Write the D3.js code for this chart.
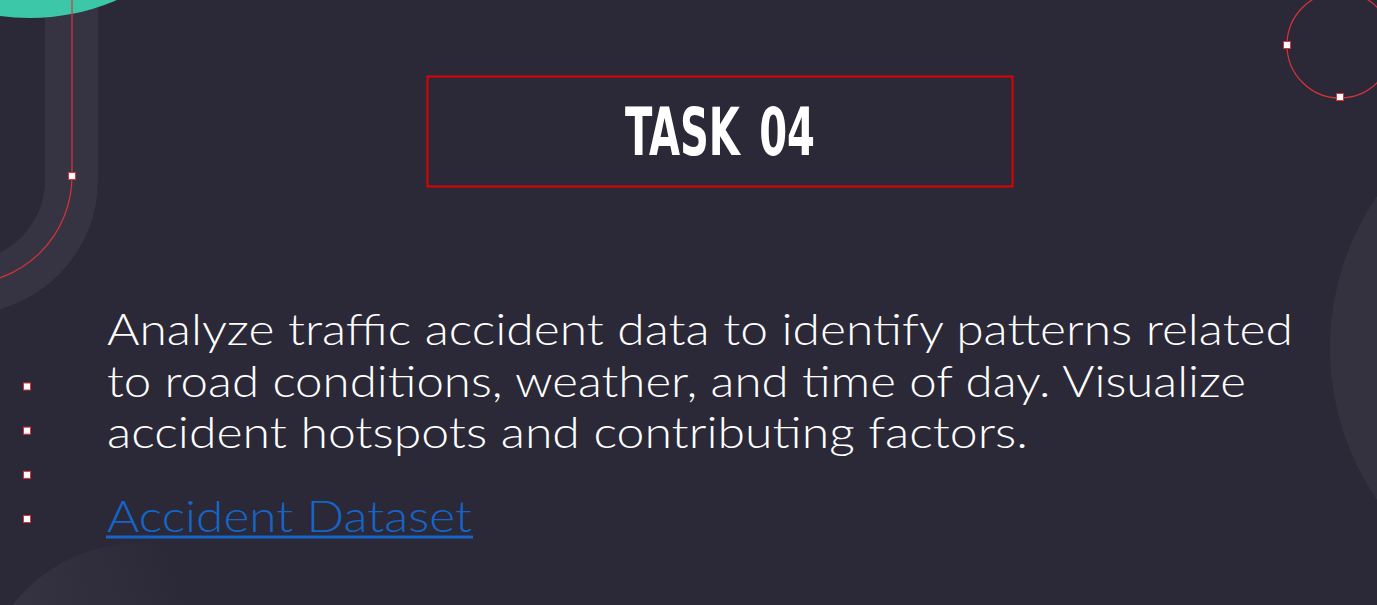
<!DOCTYPE html>
<html>
<head>
<meta charset="utf-8">
<script src="https://cdn.jsdelivr.net/npm/d3@7"></script>
<style>
  html, body { margin: 0; padding: 0; background: #2b2937; }
  svg { display: block; }
</style>
</head>
<body>
<svg id="slide"></svg>
<script>
// slide content
const titleText = 'TASK 04';
const bodyLines = [
  'Analyze traffic accident data to identify patterns related',
  'to road conditions, weather, and time of day. Visualize',
  'accident hotspots and contributing factors.'
];
const linkLabel = 'Accident Dataset';
const bulletRows = [0, 1, 2, 3];

const width = 1377;
const height = 605;

const svg = d3.select('#slide')
  .attr('width', width)
  .attr('height', height);

// gradient for the faint bottom-left disc
const defs = svg.append('defs');
const fade = defs.append('linearGradient')
  .attr('id', 'fade')
  .attr('gradientUnits', 'userSpaceOnUse')
  .attr('x1', 0).attr('y1', 600)
  .attr('x2', 170).attr('y2', 540);
fade.append('stop').attr('offset', 0).attr('stop-color', '#363442').attr('stop-opacity', 1);
fade.append('stop').attr('offset', 1).attr('stop-color', '#363442').attr('stop-opacity', 0);

// background
svg.append('rect')
  .attr('width', width)
  .attr('height', height)
  .attr('fill', '#2b2937');

// decorative shapes
const deco = svg.append('g').attr('class', 'deco');

deco.append('circle')
  .attr('cx', 1599).attr('cy', 348).attr('r', 269)
  .attr('fill', '#34323f');

deco.append('circle')
  .attr('cx', 140).attr('cy', 705).attr('r', 162)
  .attr('fill', 'url(#fade)');

deco.append('path')
  .attr('d', 'M71.5,-20 L71.5,180 A107.5,107.5 0 0 1 -36,287.5')
  .attr('fill', 'none')
  .attr('stroke', '#363442')
  .attr('stroke-width', 53);

deco.append('circle')
  .attr('cx', 30).attr('cy', -200).attr('r', 218)
  .attr('fill', '#3cc8a8');

deco.append('path')
  .attr('d', 'M72,0 L72,176 A108,108 0 0 1 -36,284')
  .attr('fill', 'none')
  .attr('stroke', '#d9323a')
  .attr('stroke-width', 1.2);

deco.append('circle')
  .attr('cx', 1340).attr('cy', 45).attr('r', 53)
  .attr('fill', 'none')
  .attr('stroke', '#d9323a')
  .attr('stroke-width', 1.2);

const handles = [[72, 176], [1287, 45], [1340, 97]];
deco.selectAll('rect.handle')
  .data(handles)
  .enter()
  .append('rect')
  .attr('class', 'handle')
  .attr('x', d => d[0] - 3.5)
  .attr('y', d => d[1] - 3.5)
  .attr('width', 7)
  .attr('height', 7)
  .attr('fill', '#ffffff')
  .attr('stroke', '#d9323a')
  .attr('stroke-width', 1);

// title box
svg.append('rect')
  .attr('x', 427.5).attr('y', 76.5)
  .attr('width', 585).attr('height', 110)
  .attr('fill', 'none')
  .attr('stroke', '#e00000')
  .attr('stroke-width', 2);

svg.append('text')
  .attr('x', 720)
  .attr('y', 155)
  .attr('text-anchor', 'middle')
  .attr('font-family', '"Liberation Sans Narrow", "DejaVu Sans Condensed", sans-serif')
  .attr('font-weight', 'bold')
  .attr('font-size', 66)
  .attr('textLength', 190)
  .attr('lengthAdjust', 'spacingAndGlyphs')
  .attr('word-spacing', 8)
  .attr('fill', '#ffffff')
  .text(titleText);

// body text
const lineWidths = [1186, 1139, 921];
const y = d3.scaleLinear().domain([0, 1]).range([345, 396.5]);

svg.append('g')
  .selectAll('text')
  .data(bodyLines)
  .enter()
  .append('text')
  .attr('x', 107)
  .attr('y', (d, i) => y(i))
  .attr('font-family', 'Lato, "Open Sans", sans-serif')
  .attr('font-weight', 300)
  .attr('font-size', 43)
  .attr('textLength', (d, i) => lineWidths[i])
  .attr('lengthAdjust', 'spacingAndGlyphs')
  .attr('fill', '#ffffff')
  .text(d => d);

svg.append('text')
  .attr('x', 107)
  .attr('y', 532)
  .attr('font-family', 'Lato, "Open Sans", sans-serif')
  .attr('font-weight', 300)
  .attr('font-size', 43)
  .attr('textLength', 365)
  .attr('lengthAdjust', 'spacingAndGlyphs')
  .attr('fill', '#1565c8')
  .text(linkLabel);

svg.append('rect')
  .attr('x', 106).attr('y', 535.5)
  .attr('width', 367).attr('height', 3)
  .attr('fill', '#1565c8');

// bullets
const by = d3.scaleLinear().domain([0, 3]).range([386.5, 519]);
svg.append('g')
  .selectAll('rect')
  .data(bulletRows)
  .enter()
  .append('rect')
  .attr('x', 23.5)
  .attr('y', d => by(d) - 3.5)
  .attr('width', 7)
  .attr('height', 7)
  .attr('fill', '#ffffff')
  .attr('stroke', '#d9323a')
  .attr('stroke-width', 1);
</script>
</body>
</html>
